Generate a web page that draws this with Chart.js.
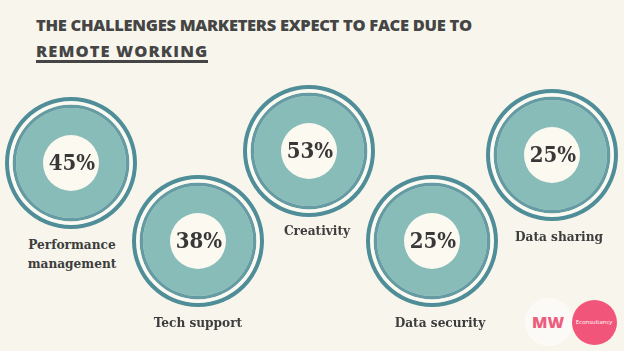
<!DOCTYPE html>
<html>
<head>
<meta charset="utf-8">
<script src="https://cdn.jsdelivr.net/npm/chart.js@4.4.1/dist/chart.umd.min.js"></script>
<style>
  html, body { margin: 0; padding: 0; }
  body { width: 624px; height: 351px; background: #f8f6ec; position: relative; overflow: hidden; font-family: "DejaVu Serif", serif; }
  .title { position: absolute; left: 36px; color: #454545; font-family: "Open Sans", sans-serif; font-weight: 800; font-size: 16.5px; line-height: 26px; white-space: nowrap; }
  .t1 { top: 12px; letter-spacing: -0.3px; }
  .t2 { top: 38px; letter-spacing: 1.1px; }
  .uline { position: absolute; left: 36px; top: 60px; width: 172px; height: 3px; background: #454545; }
  .ring { position: absolute; width: 132px; height: 132px; }
  .lbl { position: absolute; transform: translate(-50%, -50%); color: #3d3d3d; font-family: "DejaVu Serif Condensed", "DejaVu Serif", serif; font-weight: bold; font-size: 13.5px; line-height: 19px; text-align: center; white-space: nowrap; }
  .logo-w { position: absolute; left: 525px; top: 298px; width: 48px; height: 48px; border-radius: 50%; background: #fbfaf6; }
  .logo-p { position: absolute; left: 572px; top: 300px; width: 45px; height: 45px; border-radius: 50%; background: #f2557a; }
  .mw { position: absolute; left: 548px; top: 322px; transform: translate(-50%, -50%); color: #ee5d7e; font-family: "Open Sans", sans-serif; font-weight: 800; font-size: 16px; }
  .econ { position: absolute; left: 594px; top: 322px; transform: translate(-50%, -50%); color: #fff; font-family: "Open Sans", sans-serif; font-size: 6px; }
</style>
</head>
<body>
<div class="title t1">THE CHALLENGES MARKETERS EXPECT TO FACE DUE TO</div>
<div class="title t2">REMOTE WORKING</div>
<div class="uline"></div>
<div id="rings"></div>
<div class="logo-w"></div>
<div class="logo-p"></div>
<div class="mw">MW</div>
<div class="econ">Econsultancy</div>
<script>
// data
var CATEGORIES = ["Performance\nmanagement", "Tech support", "Creativity", "Data security", "Data sharing"];
var VALUES = [45, 38, 53, 25, 25];

// layout: ring centre and label centre for each category
var RING_POS = [[71, 163], [198, 241], [309, 151], [432, 241], [552, 155]];
var LABEL_POS = [[72, 254], [198, 322], [317, 230], [440, 322], [559, 236]];

// rings from outside in: dark edge, pale gap, darker band, teal body, centre
var RING_COLS = ["#4f8e98", "#fbfaf2", "#659ca3", "#87bcb9", "#fbf9f0"];
var RING_WEIGHTS = [4, 3.5, 3.5, 27, 28];

var centerText = {
  id: "centerText",
  afterDraw: function (chart) {
    var a = chart.chartArea, ctx = chart.ctx;
    var v = chart.data.datasets[0].data[0];
    ctx.save();
    ctx.font = 'bold 22px "DejaVu Serif Condensed", "DejaVu Serif"';
    ctx.fillStyle = "#383838";
    ctx.textAlign = "center";
    ctx.textBaseline = "middle";
    ctx.fillText(v + "%", (a.left + a.right) / 2 + 1, (a.top + a.bottom) / 2 + 1);
    ctx.restore();
  }
};

var host = document.getElementById("rings");
CATEGORIES.forEach(function (cat, i) {
  var box = document.createElement("div");
  box.className = "ring";
  box.style.left = (RING_POS[i][0] - 66) + "px";
  box.style.top = (RING_POS[i][1] - 66) + "px";
  var c = document.createElement("canvas");
  box.appendChild(c);
  host.appendChild(box);

  new Chart(c, {
    type: "doughnut",
    data: {
      labels: [cat],
      datasets: RING_COLS.map(function (col, k) {
        return { data: [VALUES[i]], backgroundColor: col, borderWidth: 0, weight: RING_WEIGHTS[k] };
      })
    },
    options: {
      responsive: true, maintainAspectRatio: false, animation: false, cutout: 0,
      events: [], layout: { padding: 0 },
      plugins: { legend: { display: false }, tooltip: { enabled: false } }
    },
    plugins: [centerText]
  });

  var l = document.createElement("div");
  l.className = "lbl";
  l.style.left = LABEL_POS[i][0] + "px";
  l.style.top = LABEL_POS[i][1] + "px";
  l.innerHTML = cat.split("\n").join("<br>");
  document.body.appendChild(l);
});
</script>
</body>
</html>
